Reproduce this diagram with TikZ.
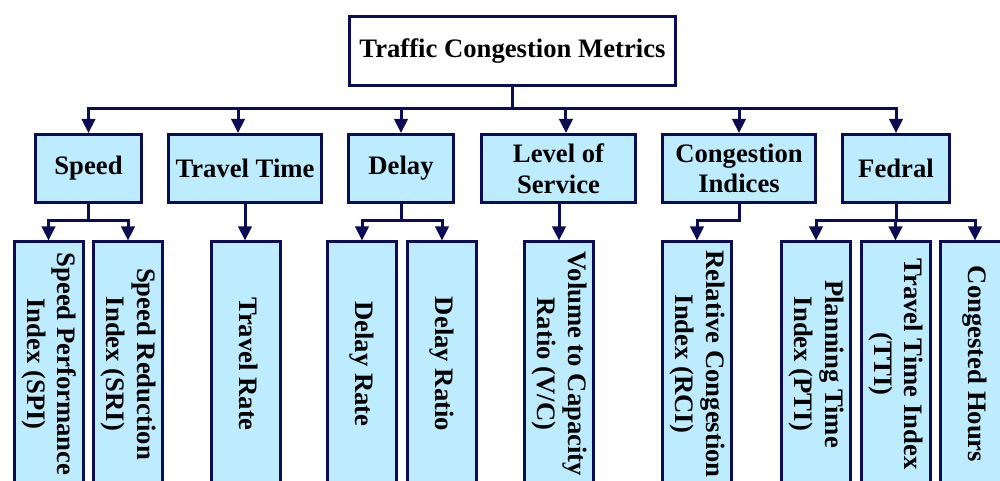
\documentclass[tikz,border=0pt]{standalone}
\usepackage{fontspec}
\setmainfont{Liberation Serif}
\usetikzlibrary{arrows.meta}
\definecolor{navy}{RGB}{12,12,84}
\definecolor{paleblue}{RGB}{189,236,255}
% vertical (top-to-bottom) multi-line label
\newcommand{\vlabel}[1]{\rotatebox{-90}{\begin{tabular}{@{}c@{}}#1\end{tabular}}}
\begin{document}
\begin{tikzpicture}[x=0.75pt, y=-0.75pt,
  font=\fontsize{20}{23}\selectfont\bfseries,
  box/.style={draw=navy, line width=2.25pt, fill=paleblue, inner sep=0pt, align=center},
  rootbox/.style={box, fill=white, minimum width=244.5pt, minimum height=51.75pt},
  catbox/.style={box, minimum height=51pt},
  metricbox/.style={box, minimum width=51.75pt, minimum height=183pt},
  conn/.style={draw=navy, line width=2.25pt},
  arr/.style={conn, -{Triangle[length=10.5pt, width=10pt]}}]

\path[use as bounding box, clip] (0,0) rectangle (1000,481);

% top level
\node[rootbox] (root) at (512.5,51) {Traffic Congestion Metrics};

% categories
\node[catbox, minimum width=79.5pt]  (speed) at (88.5,168.5) {Speed};
\node[catbox, minimum width=114.75pt] (tt)   at (245,168.5)  {Travel Time};
\node[catbox, minimum width=78.75pt] (delay) at (401,168.5)  {Delay};
\node[catbox, minimum width=115.5pt] (los)   at (558.5,168.5) {Level of\\Service};
\node[catbox, minimum width=114.75pt] (ci)   at (739,168.5)  {Congestion\\Indices};
\node[catbox, minimum width=80.25pt] (fed)   at (896,168.5)  {Fedral};

% metrics
\node[metricbox] (spi)    at (48.5,364)  {\vlabel{Speed Performance\\Index (SPI)}};
\node[metricbox] (sri)    at (128,364)   {\vlabel{Speed Reduction\\Index (SRI)}};
\node[metricbox] (trate)  at (245.5,364) {\vlabel{Travel Rate}};
\node[metricbox] (drate)  at (362,364)   {\vlabel{Delay Rate}};
\node[metricbox] (dratio) at (442,364)   {\vlabel{Delay Ratio}};
\node[metricbox] (vc)     at (559,364)   {\vlabel{Volume to Capacity\\Ratio (V/C)}};
\node[metricbox] (rci)    at (697,364)   {\vlabel{Relative Congestion\\Index (RCI)}};
\node[metricbox] (pti)    at (816,364)   {\vlabel{Planning Time\\Index (PTI)}};
\node[metricbox] (tti)    at (895.5,364) {\vlabel{Travel Time Index\\(TTI)}};
\node[metricbox] (ch)     at (975,364)   {\vlabel{Congested Hours}};

% bus lines
\coordinate (bus1) at (0,109);
\coordinate (bus2) at (0,221);

% root to categories
\foreach \t in {speed,delay,ci,fed}
  \draw[arr] (root.south) |- (\t.north |- bus1) -- (\t.north);
\draw[arr] (root.south) |- ([xshift=-5.25pt]tt.north |- bus1) -- ([xshift=-5.25pt]tt.north);
\draw[arr] (root.south) |- ([xshift=5.6pt]los.north |- bus1) -- ([xshift=5.6pt]los.north);

% categories to metrics
\foreach \t in {spi,sri}
  \draw[arr] (speed.south) |- (\t.north |- bus2) -- (\t.north);
\draw[arr] (tt.south) -- (tt.south |- trate.north);
\foreach \t in {drate,dratio}
  \draw[arr] (delay.south) |- (\t.north |- bus2) -- (\t.north);
\draw[arr] (vc.north |- los.south) -- (vc.north);
\draw[arr] (ci.south) |- (rci.north |- bus2) -- (rci.north);
\foreach \t in {pti,tti,ch}
  \draw[arr] (fed.south) |- (\t.north |- bus2) -- (\t.north);
\end{tikzpicture}
\end{document}
